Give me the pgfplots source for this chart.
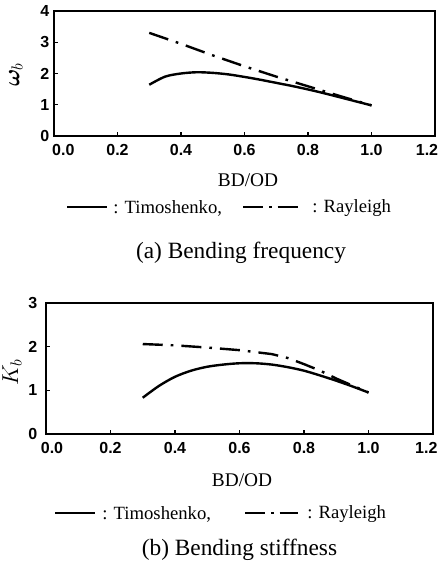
\documentclass[border=0pt]{standalone}
\usepackage{pgfplots}
\pgfplotsset{compat=1.18}
\usepackage{pgfplotstable}
\usepackage{fontspec}
\usepackage{bm}
\setmainfont{Liberation Serif}
\setsansfont{Liberation Sans}
\pgfplotstableread{
x y
0.30 1.64
0.35 1.90
0.40 2.00
0.45 2.04
0.50 2.02
0.55 1.97
0.60 1.89
0.65 1.80
0.70 1.70
0.75 1.60
0.80 1.49
0.85 1.37
0.90 1.24
0.95 1.11
1.00 0.98
}\timoA
\pgfplotstableread{
x y
0.30 3.30
0.40 2.95
0.50 2.58
0.60 2.23
0.70 1.90
0.80 1.59
0.90 1.28
1.00 0.98
}\rayA
\pgfplotstableread{
x y
0.30 0.83
0.35 1.10
0.40 1.31
0.45 1.45
0.50 1.54
0.55 1.59
0.60 1.62
0.65 1.62
0.70 1.59
0.75 1.53
0.80 1.45
0.85 1.34
0.90 1.22
0.95 1.09
1.00 0.95
}\timoB
\pgfplotstableread{
x y
0.30 2.06
0.40 2.03
0.50 1.98
0.60 1.92
0.70 1.83
0.75 1.74
0.80 1.60
0.85 1.45
0.90 1.27
0.95 1.11
1.00 0.95
}\rayB
\pgfplotsset{
  myaxis/.style={
    scale only axis,
    anchor=south west,
    xmin=0, xmax=1.2,
    ymin=0,
    xtick={0,0.2,0.4,0.6,0.8,1.0,1.2},
    tick label style={font=\fontsize{12}{14}\selectfont\sffamily\bfseries},
    xticklabel style={yshift=-3pt},
    /pgf/number format/assume math mode=true,
    tick align=inside,
    major tick length=3pt,
    xtick pos=bottom, ytick pos=left,
    axis line style={line width=1.2pt},
    every tick/.style={line width=1pt, black},
    label style={font=\fontsize{14.5}{16}\selectfont},
  },
  timo/.style={black, line width=1.8pt, smooth},
  ray/.style={black, line width=1.8pt, dash pattern=on 15pt off 6pt on 2pt off 6pt},
}
\begin{document}
\begin{tikzpicture}
\useasboundingbox (0,0) rectangle (330pt,428.25pt);
\begin{axis}[myaxis,
  at={(40.5pt,326.25pt)}, width=285.75pt, height=93.75pt,
  ymax=4, ytick={0,1,2,3,4},
  xticklabels={\hspace*{14pt}0.0,0.2,0.4,0.6,0.8,1.0,1.2\hspace*{12pt}},
  ylabel={$\bm{\omega}_b$},
  ylabel style={font=\fontsize{18}{20}\selectfont, at={(axis description cs:-0.1,0.49)}, anchor=center},
]
\addplot[timo] table[x=x,y=y] {\timoA};
\addplot[ray] table[x=x,y=y] {\rayA};
\end{axis}
\node[font=\fontsize{14.5}{16}\selectfont] at (186pt,293.25pt) {BD/OD};
\draw[line width=1.6pt] (50.25pt,273pt) -- (80.25pt,273pt);
\node[anchor=west, font=\fontsize{14}{16}\selectfont, inner sep=0pt] at (84.75pt,272pt) {: Timoshenko,};
\draw[line width=1.6pt, dash pattern=on 15pt off 4.5pt on 2pt off 4.5pt] (182.25pt,273pt) -- (226.5pt,273pt);
\node[anchor=west, font=\fontsize{14}{16}\selectfont, inner sep=0pt] at (234pt,272pt) {: Rayleigh};
\node[font=\fontsize{17.5}{20}\selectfont] at (180.75pt,238.5pt) {(a) Bending frequency};

\begin{axis}[myaxis,
  at={(34.5pt,102.75pt)}, width=290.25pt, height=98.25pt,
  ymax=3, ytick={0,1,2,3},
  yticklabel style={xshift=-3pt},
  xticklabels={\hspace*{9pt}0.0,0.2,0.4,0.6,0.8,1.0,1.2\hspace*{10pt}},
  ylabel={$K_b$},
  ylabel style={font=\fontsize{18}{20}\selectfont, at={(axis description cs:-0.088,0.47)}, anchor=center},
]
\addplot[timo] table[x=x,y=y] {\timoB};
\addplot[ray] table[x=x,y=y] {\rayB};
\end{axis}
\node[font=\fontsize{14.5}{16}\selectfont] at (181.5pt,68.25pt) {BD/OD};
\draw[line width=1.6pt] (41.25pt,43.5pt) -- (71.25pt,43.5pt);
\node[anchor=west, font=\fontsize{14}{16}\selectfont, inner sep=0pt] at (76.5pt,42.5pt) {: Timoshenko,};
\draw[line width=1.6pt, dash pattern=on 15pt off 4.5pt on 2pt off 4.5pt] (183.75pt,43.5pt) -- (223.5pt,43.5pt);
\node[anchor=west, font=\fontsize{14}{16}\selectfont, inner sep=0pt] at (230.25pt,42.5pt) {: Rayleigh};
\node[font=\fontsize{17.5}{20}\selectfont] at (179.6pt,15.75pt) {(b) Bending stiffness};
\end{tikzpicture}
\end{document}
